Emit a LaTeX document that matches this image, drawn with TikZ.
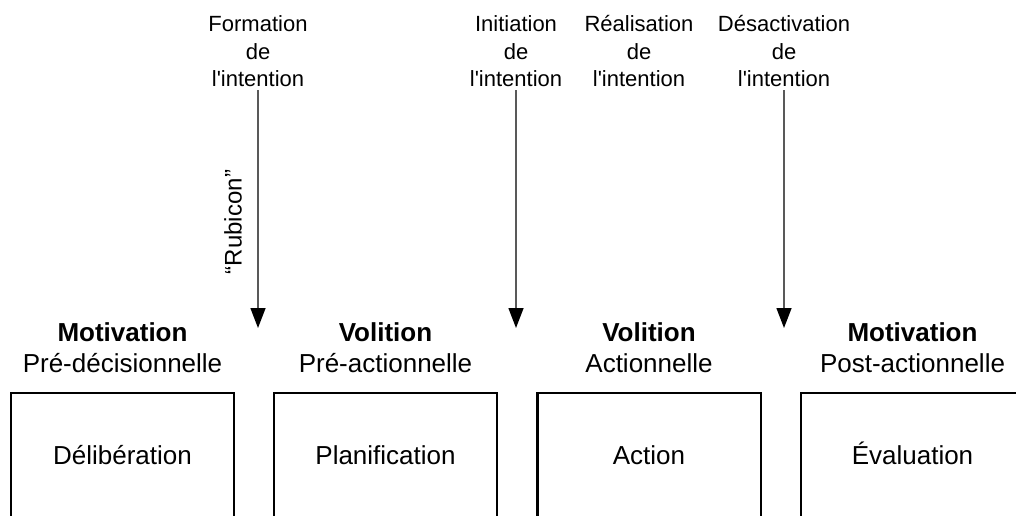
\documentclass[tikz,border=0pt]{standalone}
\usepackage{fontspec}
\setmainfont{Liberation Sans}
\usetikzlibrary{arrows.meta}
\newcommand{\apos}{\textquotesingle}
\begin{document}
\begin{tikzpicture}[x=1pt,y=-1pt,
  toplabel/.style={align=center, font=\fontsize{22}{27.5}\selectfont, inner sep=0pt},
  phase/.style={align=center, font=\fontsize{26}{31}\selectfont, inner sep=0pt},
  stagebox/.style={minimum width=223pt, minimum height=124pt, inner sep=0pt,
    text height=19pt, text depth=0pt, font=\fontsize{26}{31}\selectfont},
  frame/.style={line width=2.4pt, draw=black},
  transition/.style={line width=1.4pt, draw=black!65, -{Triangle[length=20pt,width=15pt,color=black]}}
]
\useasboundingbox (0,0) rectangle (1016,516);
\clip (0,0) rectangle (1016,516);

% transition points of the intention
\node[toplabel] (t1) at (258,51.5) {Formation\\de\\l\apos intention};
\node[toplabel] (t2) at (516,51.5) {Initiation\\de\\l\apos intention};
\node[toplabel] (t3) at (639,51.5) {Réalisation\\de\\l\apos intention};
\node[toplabel] (t4) at (784,51.5) {Désactivation\\de\\l\apos intention};

\coordinate (e1) at (t1.south |- 0,328);
\coordinate (e2) at (t2.south |- 0,328);
\coordinate (e4) at (t4.south |- 0,328);
\draw[transition] ([yshift=-3pt]t1.south) -- (e1);
\draw[transition] ([yshift=-3pt]t2.south) -- (e2);
\draw[transition] ([yshift=-3pt]t4.south) -- (e4);

\node[rotate=90, font=\fontsize{24}{24}\selectfont, inner sep=0pt] (rub) at (233,222) {“Rubicon”};

% phase headings
\node[phase] (h1) at (122.5,347.5) {\textbf{Motivation}\\Pré-décisionnelle};
\node[phase] (h2) at (385.5,347.5) {\textbf{Volition}\\Pré-actionnelle};
\node[phase] (h3) at (649,347.5) {\textbf{Volition}\\Actionnelle};
\node[phase] (h4) at (912.5,347.5) {\textbf{Motivation}\\Post-actionnelle};

% stages (open at the bottom)
\node[stagebox] (b1) at (122.5,455) {Délibération};
\node[stagebox] (b2) at (385.5,455) {Planification};
\node[stagebox] (b3) at (649,455) {Action};
\node[stagebox] (b4) at (912.5,455) {Évaluation};

\foreach \b in {b1,b2,b3,b4}
  \draw[frame] ([yshift=-20pt]\b.south west) |- (\b.north east) -- ([yshift=-20pt]\b.south east);
\end{tikzpicture}
\end{document}
